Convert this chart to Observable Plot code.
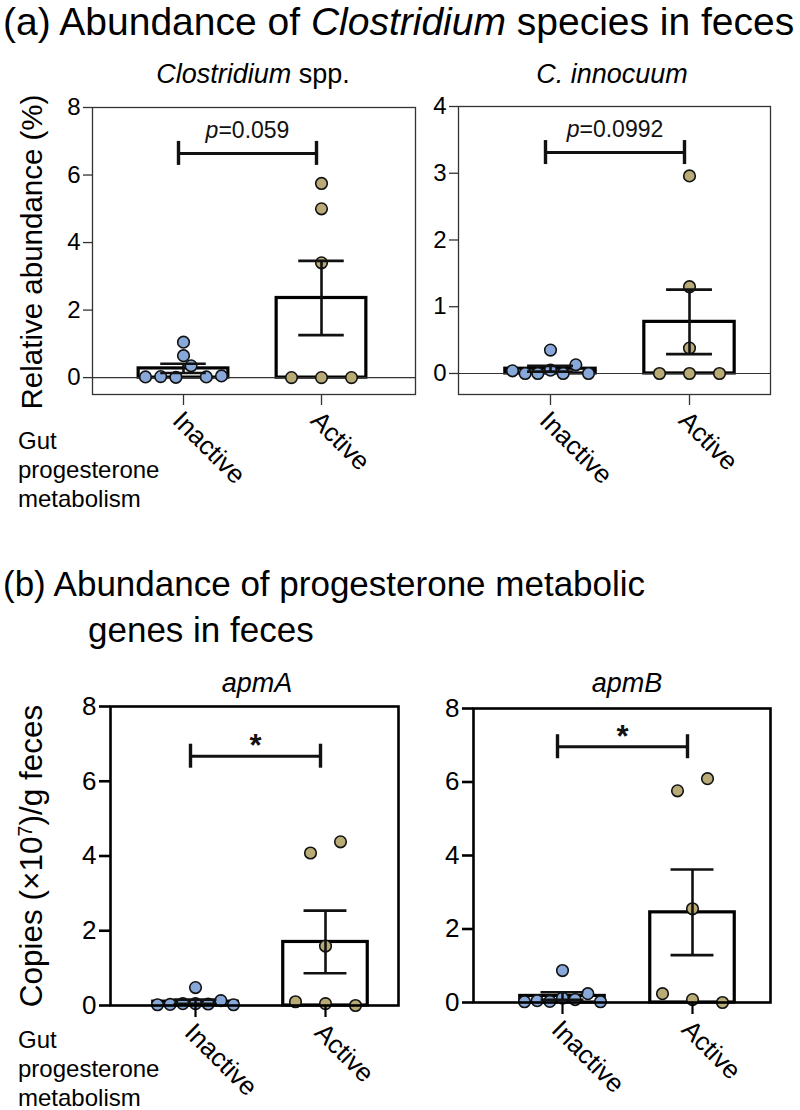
<!DOCTYPE html>
<html><head><meta charset="utf-8">
<script src="https://cdn.jsdelivr.net/npm/d3@7"></script>
<script src="https://cdn.jsdelivr.net/npm/@observablehq/plot@0.6"></script>
<style>
body{margin:0;background:#fff;font-family:"Liberation Sans",Arial,sans-serif;}
#root{position:relative;width:800px;height:1110px;overflow:hidden;background:#fff;}
.abs{position:absolute;white-space:nowrap;color:#000;line-height:1;}
#root svg{position:absolute;overflow:visible;}
</style></head><body><div id="root"></div>
<script>
// ---- data (within-row order = left to right as drawn) ----
const groups = ["Inactive", "Active"];
const groupColors = ["#87a8d8", "#b9ab76"];

// (a) Clostridium spp. relative abundance (%)
const clostridiumInactive = [0.02, 0.03, 0.01, 0.35, 0.02, 0.05, 0.65, 1.05];
const clostridiumActive = [0.0, 0.0, 0.0, 3.4, 5.0, 5.75];
// (a) C. innocuum relative abundance (%)
const innocuumInactive = [0.04, 0.0, 0.0, 0.05, 0.0, 0.13, 0.0, 0.35];
const innocuumActive = [0.0, 0.0, 0.0, 0.38, 1.3, 2.96];
// (b) apmA copies (x10^7)/g feces
const apmAInactive = [0.02, 0.03, 0.05, 0.05, 0.04, 0.13, 0.02, 0.48];
const apmAActive = [0.1, 0.05, 0.0, 1.59, 4.08, 4.38];
// (b) apmB copies (x10^7)/g feces
const apmBInactive = [0.02, 0.05, 0.03, 0.12, 0.08, 0.24, 0.02, 0.87];
const apmBActive = [0.24, 0.08, 0.0, 2.55, 5.76, 6.09];

// axis ticks
const ticksClostridium = [0, 2, 4, 6, 8];
const ticksInnocuum = [0, 1, 2, 3, 4];
const ticksApm = [0, 2, 4, 6, 8];

// significance annotations
const sigClostridium = {from: "Inactive", to: "Active", y: 6.64, p: "0.059"};
const sigInnocuum = {from: "Inactive", to: "Active", y: 3.31, p: "0.0992"};
const sigApmA = {from: "Inactive", to: "Active", y: 6.67, star: "*"};
const sigApmB = {from: "Inactive", to: "Active", y: 6.96, star: "*"};

// ---- helpers ----
const root = document.getElementById("root");
const FONT = "Liberation Sans, Arial, sans-serif";
const ctx = document.createElement("canvas").getContext("2d");
function textWidth(t, size, style = "") { ctx.font = `${style} ${size}px ${FONT}`; return ctx.measureText(t).width; }

function addText(html, css) {
  const d = document.createElement("div");
  d.className = "abs";
  d.innerHTML = html;
  Object.assign(d.style, css);
  root.appendChild(d);
  return d;
}

// column scatter layout: points close in y share a row and are spread symmetrically
function scatterOffsets(values, pxPerUnit) {
  const idx = d3.range(values.length).sort((a, b) => values[a] - values[b] || a - b);
  const rows = [];
  for (const i of idx) {
    const row = rows[rows.length - 1];
    if (row && (values[i] - values[row[0]]) * pxPerUnit < 13) row.push(i);
    else rows.push([i]);
  }
  const off = new Array(values.length).fill(0);
  for (const row of rows) {
    row.sort((a, b) => a - b);
    const n = row.length;
    const spacing = n > 1 ? Math.min(30, 76 / (n - 1)) : 0;
    row.forEach((i, k) => off[i] = (k - (n - 1) / 2) * spacing);
  }
  return off;
}

function panel(cfg) {
  const {inactive, active, yDomain, yTicks, box, heavy, sig} = cfg;
  const step = box.c1 - box.c0;
  const xDomain = [(box.left - box.c0) / step, (box.right - box.c0) / step];
  const pxPerUnit = (box.bottom - box.top) / (yDomain[1] - yDomain[0]);
  const r = 5.8;
  const rows = [];
  [inactive, active].forEach((vals, gi) => {
    const offs = scatterOffsets(vals, pxPerUnit);
    vals.forEach((v, i) => rows.push({group: groups[gi], v, xi: gi + offs[i] / step}));
  });
  const summary = [inactive, active].map((vals, gi) => {
    const m = d3.mean(vals), se = d3.deviation(vals) / Math.sqrt(vals.length);
    return {gi, mean: m, lo: m - se, hi: m + se};
  });
  const half = 0.325, cap = 0.165;
  const capH = 12 / pxPerUnit;
  const x1 = groups.indexOf(sig.from), x2 = groups.indexOf(sig.to);
  const bracket = [{...sig, x1, x2, mid: (x1 + x2) / 2}];
  const bracketEnds = [{x: x1, y: sig.y}, {x: x2, y: sig.y}];
  const frameColor = heavy ? "#000" : "#333";
  const frameW = heavy ? 2.6 : 1.3;

  const ml = 100, mr = 15, mt = 30, mb = 120;
  const svgLeft = box.left - ml, svgTop = box.top - mt;

  const marks = [
    Plot.rectY(summary, {x1: d => d.gi - half, x2: d => d.gi + half, y1: 0, y2: "mean", fill: "white", stroke: "black", strokeWidth: 3.2}),
    heavy ? null : Plot.ruleY([0], {stroke: "#333", strokeWidth: 1.1}),
    Plot.dot(rows, {x: "xi", y: "v", r, fill: "group", stroke: "#111", strokeWidth: 1.6}),
    Plot.ruleX(summary, {x: "gi", y1: "lo", y2: "hi", stroke: "#111", strokeWidth: 2.6}),
    Plot.ruleY(summary, {y: "hi", x1: d => d.gi - cap, x2: d => d.gi + cap, stroke: "#111", strokeWidth: 2.6}),
    Plot.ruleY(summary, {y: "lo", x1: d => d.gi - cap, x2: d => d.gi + cap, stroke: "#111", strokeWidth: 2.6}),
    Plot.ruleY(bracket, {y: "y", x1: "x1", x2: "x2", dx: -5, stroke: "#111", strokeWidth: 3}),
    Plot.ruleX(bracketEnds, {x: "x", y1: d => d.y - capH, y2: d => d.y + capH, dx: -5, stroke: "#111", strokeWidth: 3.4}),
    Plot.frame({stroke: frameColor, strokeWidth: frameW}),
    Plot.axisY({ticks: yTicks, tickFormat: d3.format("d"), tickSize: heavy ? 11 : 9, tickPadding: 3, fontSize: heavy ? 26 : 24, label: null, stroke: frameColor, strokeWidth: frameW}),
    Plot.axisX({ticks: [0, 1], tickFormat: i => groups[i], tickRotate: 45, tickSize: heavy ? 12 : 11, tickPadding: 17, fontSize: 26, label: null, stroke: frameColor, strokeWidth: heavy ? 2.2 : 1.3, textStroke: null}),
  ];
  if (sig.p) {
    const fs = 23;
    const wp = textWidth("p", fs, "italic"), wr = textWidth("=" + sig.p, fs);
    const shift = -(wp + wr) / 2 + wp - 5;
    marks.push(Plot.text(bracket, {x: "mid", y: "y", text: () => "p", fontStyle: "italic", textAnchor: "end", dx: shift, dy: -23, fontSize: fs, fill: "#111"}));
    marks.push(Plot.text(bracket, {x: "mid", y: "y", text: d => "=" + d.p, textAnchor: "start", dx: shift, dy: -23, fontSize: fs, fill: "#111"}));
  } else {
    marks.push(Plot.text(bracket, {x: "mid", y: "y", text: "star", dx: -5, dy: -10, fontSize: 31, fontWeight: "bold", fill: "#111"}));
  }

  const svg = Plot.plot({
    width: box.right + mr - svgLeft,
    height: box.bottom + mb - svgTop,
    marginLeft: ml, marginRight: mr, marginTop: mt, marginBottom: mb,
    x: {domain: xDomain, axis: null},
    y: {domain: yDomain, axis: null},
    color: {domain: groups, range: groupColors},
    style: {fontFamily: FONT, color: "#000", background: "transparent", overflow: "visible", fontSize: "24px"},
    marks: marks.filter(Boolean)
  });
  svg.style.left = svgLeft + "px";
  svg.style.top = svgTop + "px";
  // nudge rotated category labels slightly left, as in the original
  svg.querySelectorAll("[aria-label='x-axis tick label'] text").forEach(t => {
    t.setAttribute("dx", (parseFloat(t.getAttribute("dx") || 0) - 9).toString());
  });
  root.appendChild(svg);
}

// ---- panels ----
panel({inactive: clostridiumInactive, active: clostridiumActive, yDomain: [-0.5, 8], yTicks: ticksClostridium,
  box: {left: 92, right: 415, top: 107, bottom: 394, c0: 183, c1: 321}, heavy: false, sig: sigClostridium});
panel({inactive: innocuumInactive, active: innocuumActive, yDomain: [-0.315, 4], yTicks: ticksInnocuum,
  box: {left: 458, right: 770, top: 106, bottom: 394, c0: 550, c1: 689}, heavy: false, sig: sigInnocuum});
panel({inactive: apmAInactive, active: apmAActive, yDomain: [0, 8], yTicks: ticksApm,
  box: {left: 110, right: 398, top: 706, bottom: 1005, c0: 195, c1: 325}, heavy: true, sig: sigApmA});
panel({inactive: apmBInactive, active: apmBActive, yDomain: [0, 8], yTicks: ticksApm,
  box: {left: 473, right: 770, top: 708, bottom: 1002, c0: 562, c1: 692}, heavy: true, sig: sigApmB});

// ---- titles and labels ----
addText("(a) Abundance of <i>Clostridium</i> species in feces", {left: "3px", top: "2px", fontSize: "39px"});
addText("<i>Clostridium</i> spp.", {left: "253px", top: "61px", fontSize: "27px", transform: "translateX(-50%)"});
addText("<i>C. innocuum</i>", {left: "612px", top: "61px", fontSize: "27px", transform: "translateX(-50%)"});
addText("Relative abundance (%)", {left: "32px", top: "252px", fontSize: "29.5px", transform: "translate(-50%,-50%) rotate(-90deg)"});
addText("Gut<br>progesterone<br>metabolism", {left: "18px", top: "426px", fontSize: "24px", lineHeight: "29px"});

addText("(b) Abundance of progesterone metabolic", {left: "3px", top: "566px", fontSize: "35px"});
addText("genes in feces", {left: "88px", top: "612px", fontSize: "35px"});
addText("<i>apmA</i>", {left: "257px", top: "670px", fontSize: "27px", transform: "translateX(-50%)"});
addText("<i>apmB</i>", {left: "627px", top: "670px", fontSize: "27px", transform: "translateX(-50%)"});
addText("Copies (×10<sup style='font-size:0.62em;vertical-align:0.55em;line-height:0'>7</sup>)/g feces", {left: "32px", top: "856px", fontSize: "31.5px", transform: "translate(-50%,-50%) rotate(-90deg)"});
addText("Gut<br>progesterone<br>metabolism", {left: "18px", top: "1025px", fontSize: "24px", lineHeight: "29px"});
</script></body></html>
